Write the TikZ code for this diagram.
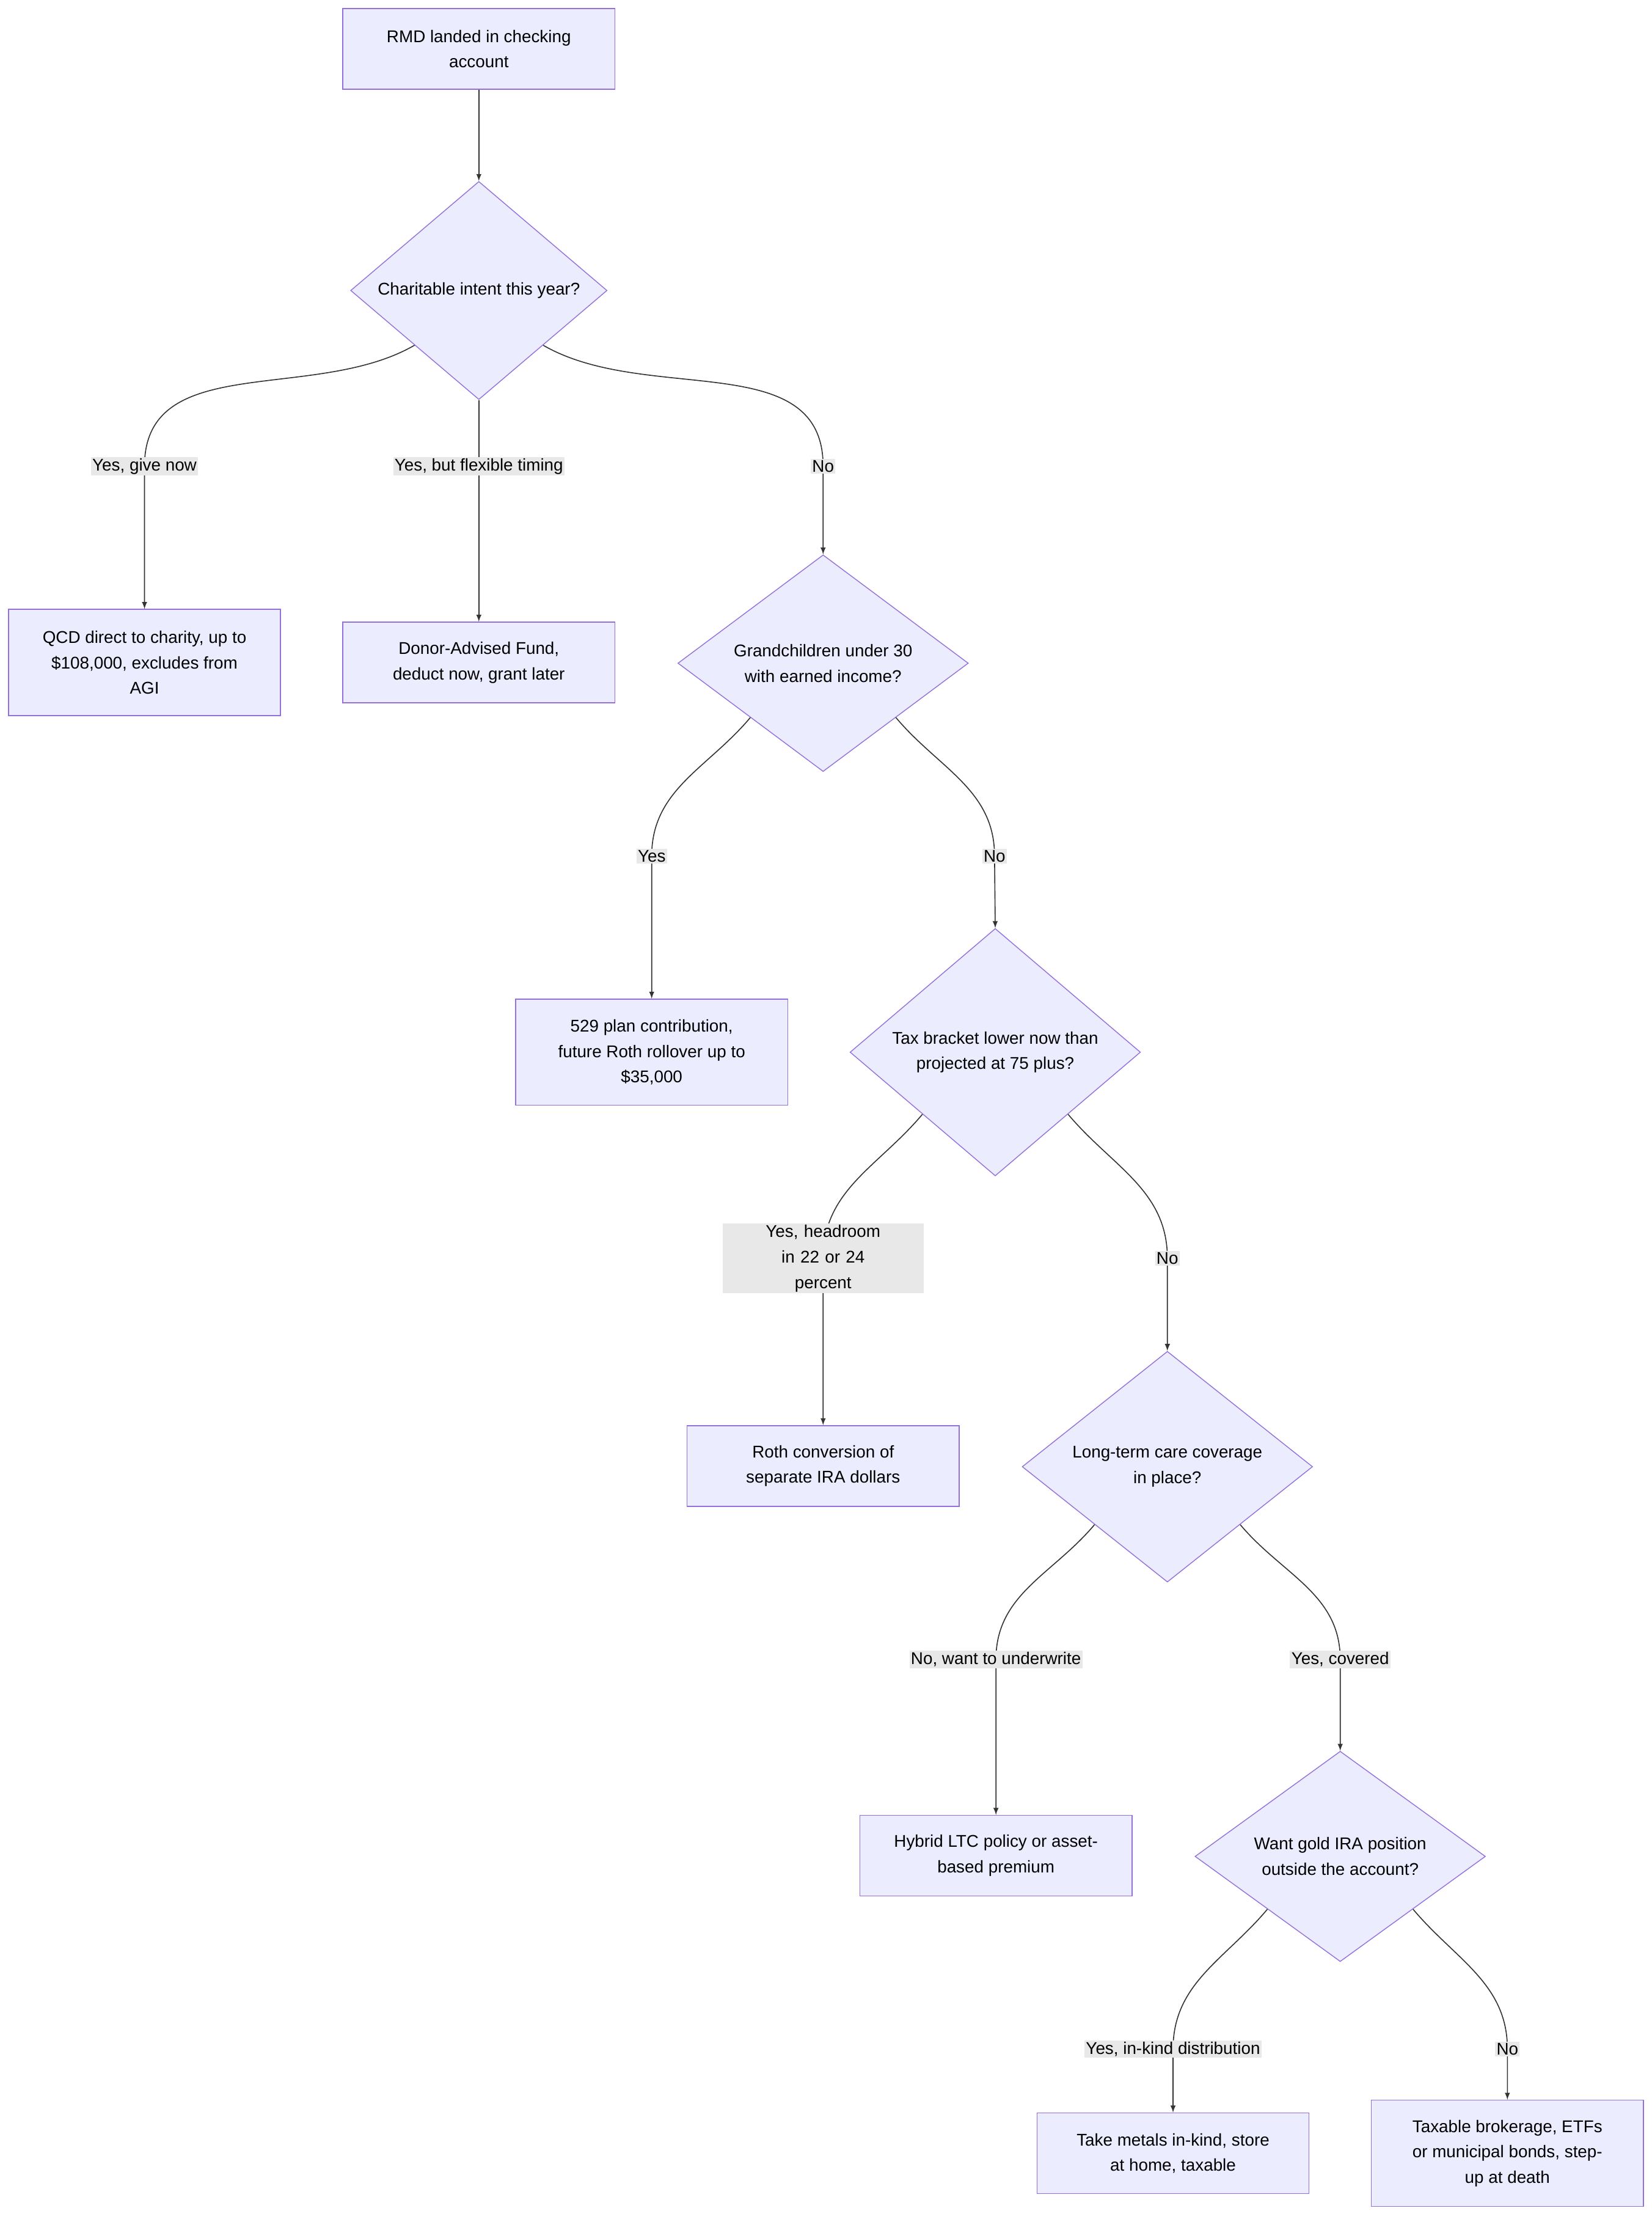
\documentclass[tikz,border=0pt]{standalone}
\usepackage{fontspec}
\setmainfont{Liberation Sans}
\usetikzlibrary{arrows,shapes.geometric,calc}

\definecolor{boxfill}{HTML}{ECECFF}
\definecolor{boxline}{HTML}{9370DB}
\definecolor{lblfill}{HTML}{E8E8E8}

\tikzset{
	act/.style={draw=boxline,fill=boxfill,line width=0.6pt,minimum width=192pt,
		align=center,font=\fontsize{12}{18}\selectfont,inner sep=0pt},
	ask/.style={draw=boxline,fill=boxfill,line width=0.6pt,diamond,aspect=1,
		minimum width=205pt,align=center,font=\fontsize{12}{18}\selectfont,inner sep=0pt},
	lbl/.style={fill=lblfill,align=center,font=\fontsize{12}{18}\selectfont,inner sep=1pt},
	arr/.style={->,>=latex,draw=black!80,line width=0.7pt},
}

\begin{document}
\begin{tikzpicture}[x=1pt,y=-1pt]

\useasboundingbox (0,0) rectangle (1166,1568);

% boxes
\node[act,minimum height=57pt] (rmd) at (338,34.5) {RMD landed in checking\\account};
\node[ask,minimum width=181pt] (charity) at (338,205) {Charitable intent this year?};
\node[act,minimum height=75pt] (qcd) at (102,467.5) {QCD direct to charity, up to\\\$108,000, excludes from\\AGI};
\node[act,minimum height=57pt] (daf) at (338,467.5) {Donor-Advised Fund,\\deduct now, grant later};
\node[ask] (grand) at (581,468) {Grandchildren under 30\\with earned income?};
\node[act,minimum height=75pt] (plan) at (460,742.5) {529 plan contribution,\\future Roth rollover up to\\\$35,000};
\node[ask] (bracket) at (702.5,742.5) {Tax bracket lower now than\\projected at 75 plus?};
\node[act,minimum height=57pt] (roth) at (581,1034.5) {Roth conversion of\\separate IRA dollars};
\node[ask] (ltc) at (824,1035) {Long-term care coverage\\in place?};
\node[act,minimum height=57pt] (hybrid) at (703,1309.5) {Hybrid LTC policy or asset-\\based premium};
\node[ask] (gold) at (946,1310) {Want gold IRA position\\outside the account?};
\node[act,minimum height=57pt] (metals) at (828,1519.5) {Take metals in-kind, store\\at home, taxable};
\node[act,minimum height=75pt] (broker) at (1064,1519.5) {Taxable brokerage, ETFs\\or municipal bonds, step-\\up at death};

% label points
\coordinate (l1) at (102,329);
\coordinate (l2) at (338,329);
\coordinate (l3) at (581,329);
\coordinate (l4) at (460,604);
\coordinate (l5) at (702,604);
\coordinate (l6) at (581,888);
\coordinate (l7) at (824,888);
\coordinate (l8) at (703,1171);
\coordinate (l9) at (946,1171);
\coordinate (l10) at (828,1446);
\coordinate (l11) at (1064,1446);

% connectors
\draw[arr] (rmd) -- (charity);
\draw[arr] (charity.south west) to[out=-150,in=90] (l1) -- (qcd);
\draw[arr] (charity.south) -- (daf);
\draw[arr] (charity.south east) to[out=-30,in=90] (l3) -- (grand.north);
\draw[arr] (grand.south west) to[out=-130,in=90] (l4) -- (plan);
\draw[arr] (grand.south east) to[out=-50,in=90] (l5) -- (bracket.north);
\draw[arr] (bracket.south west) to[out=-130,in=90] (l6) -- (roth);
\draw[arr] (bracket.south east) to[out=-50,in=90] (l7) -- (ltc.north);
\draw[arr] (ltc.south west) to[out=-130,in=90] (l8) -- (hybrid);
\draw[arr] (ltc.south east) to[out=-50,in=90] (l9) -- (gold.north);
\draw[arr] (gold.south west) to[out=-130,in=90] (l10) -- (metals);
\draw[arr] (gold.south east) to[out=-50,in=90] (l11) -- (broker);

% labels
\node[lbl] (t1) at (l1) {Yes, give now};
\node[lbl] (t2) at (l2) {Yes, but flexible timing};
\node[lbl] (t3) at (l3) {No};
\node[lbl] (t4) at (l4) {Yes};
\node[lbl] (t5) at (l5) {No};
\node[lbl,text width=140pt] (t6) at (l6) {Yes, headroom in 22 or 24\\percent};
\node[lbl] (t7) at (l7) {No};
\node[lbl] (t8) at (l8) {No, want to underwrite};
\node[lbl] (t9) at (l9) {Yes, covered};
\node[lbl] (t10) at (l10) {Yes, in-kind distribution};
\node[lbl] (t11) at (l11) {No};

\end{tikzpicture}
\end{document}
